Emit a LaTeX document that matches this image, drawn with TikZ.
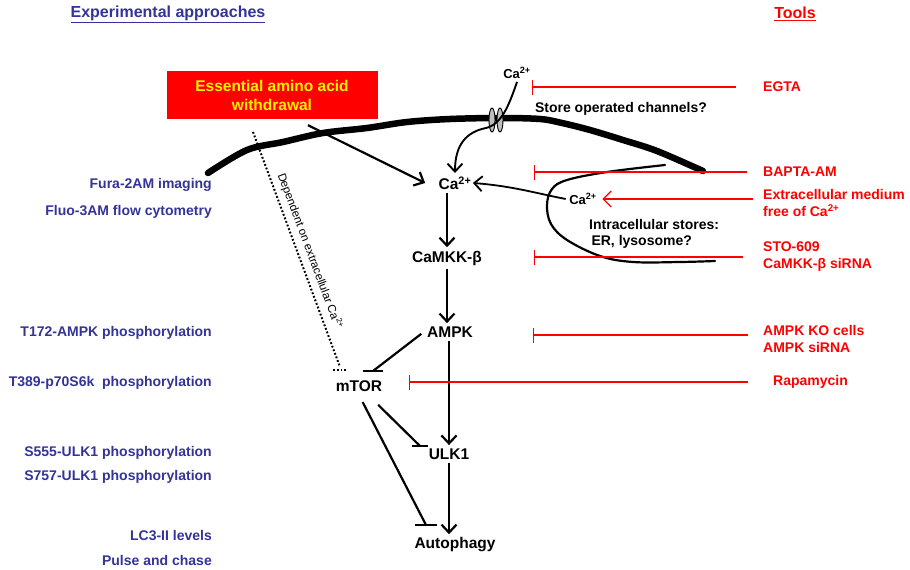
\documentclass[tikz,border=0pt]{standalone}
\usepackage{fontspec}
\setmainfont{Liberation Sans}
\usetikzlibrary{arrows.meta}

\definecolor{approachblue}{HTML}{333399}
\definecolor{toolred}{HTML}{FF0000}

\begin{document}
\begin{tikzpicture}[x=1pt, y=-1pt, >={Straight Barb[length=8pt, width=15pt]},
    every node/.style={font=\bfseries\fontsize{14}{16}\selectfont},
    mol/.style={font=\bfseries\fontsize{15.5}{18}\selectfont},
    smallion/.style={font=\bfseries\fontsize{13}{15}\selectfont},
    approach/.style={text=approachblue, anchor=east, inner sep=0pt},
    toolnote/.style={text=toolred, anchor=west, align=left, inner sep=0pt,
        font=\bfseries\fontsize{14}{17}\selectfont},
    act/.style={->, line width=2.2pt},
    inh/.style={line width=2.2pt},
    redblock/.style={draw=toolred, line width=1.3pt, -{Bar[width=15pt]}},
    dotline/.style={line width=2pt, dash pattern=on 1.8pt off 2pt}]

        \useasboundingbox (0,0) rectangle (910,570);

        % Draw the two headings
        \node[text=approachblue, font=\bfseries\fontsize{16}{18}\selectfont] (exphead)
            at (168,14) {\underline{Experimental approaches}};
        \node[text=toolred, font=\bfseries\fontsize{16}{18}\selectfont] (toolhead)
            at (795,14) {\underline{Tools}};

        % Draw the cell membrane and the channel
        \draw[line width=6.5pt, line cap=round] plot[smooth, tension=0.55] coordinates
            {(208,173) (247,150) (283,142) (323,133) (367,128) (407,122) (450,119)
             (500,118) (540,119) (562,123) (590,130) (623,140) (657,151) (703,171)};
        \draw[fill=gray!50, line width=0.9pt] (492,120) ellipse [x radius=3pt, y radius=12pt];
        \draw[fill=gray!50, line width=0.9pt] (500,120) ellipse [x radius=3pt, y radius=12pt];

        % Draw the intracellular store
        \draw[line width=2.2pt, line cap=round] plot[smooth, tension=0.6] coordinates
            {(665,165) (607,172) (567,180) (552,189) (547,205) (551,224) (567,240)
             (600,256) (633,262) (680,262) (715,261)};

        % Draw the stimulus box
        \node[fill=red, text=yellow, minimum width=211pt, minimum height=48pt, align=center,
            font=\bfseries\fontsize{15.5}{19}\selectfont] (withdrawal)
            at (272,95) {Essential amino acid\\withdrawal};

        % Draw the pathway
        \node[smallion] (catop) at (517,73) {Ca\textsuperscript{2+}};
        \node[mol] (camain) at (455,183) {Ca\textsuperscript{2+}};
        \node[smallion] (castore) at (583,199) {Ca\textsuperscript{2+}};
        \node[mol] (camkk) at (447,258) {CaMKK-β};
        \node[mol] (ampk) at (450,332) {AMPK};
        \node[mol] (mtor) at (359,386) {mTOR};
        \node[mol] (ulk) at (449,454) {ULK1};
        \node[mol] (autophagy) at (455,545) {Autophagy};

        \node (soc) at (621,109) {Store operated channels?};
        \node[align=left, anchor=west, inner sep=0pt] (stores)
            at (589,234) {Intracellular stores:\\\,ER, lysosome?};

        \draw[act, line width=1.9pt] (catop.south) .. controls (509,105) and (502,124) ..
            (486,128) .. controls (466,132) and (455,145) .. (camain.north);
        \draw[act, line width=1.8pt] (castore.west) .. controls (535,193) and (512,186) ..
            ([xshift=-2pt]camain.east);
        \draw[act] ([xshift=36pt, yshift=-6pt]withdrawal.south) -- ([xshift=-10pt]camain.west);

        \draw[act] (camain.south -| camkk) -- (camkk.north);
        \draw[act] (camkk.south) -- (camkk.south |- ampk.north);
        \draw[act] (ampk.south -| ulk) -- (ulk.north);
        \draw[act] (ulk.south) -- (ulk.south |- autophagy.north);

        % Draw the inhibitions
        \coordinate (mtorbar) at (373,371);
        \coordinate (ulkbar) at (420,446);
        \coordinate (autobar) at (426,525);
        \draw[inh, shorten <=3pt] (ampk.west) -- (mtorbar);
        \draw[inh] ([xshift=-10pt]mtorbar) -- ([xshift=10pt]mtorbar);
        \draw[inh, shorten <=14pt] (mtor) -- (ulkbar);
        \draw[inh] ([xshift=-8pt]ulkbar) -- ([xshift=8pt]ulkbar);
        \draw[inh, shorten <=8pt] (mtor.south) -- (autobar);
        \draw[inh] ([xshift=-11pt]autobar) -- ([xshift=11pt]autobar);

        % Draw the dotted link and its label
        \coordinate (deptop) at (253,132);
        \coordinate (depbot) at (340,367);
        \draw[dotline] (deptop) -- (depbot);
        \draw[dotline] (333,370) -- (348,370);
        \node[rotate=-69.5, font=\mdseries\fontsize{11.5}{13}\selectfont] (deplabel)
            at (310,251) {Dependent on extracellular Ca\textsuperscript{2+}};

        % Draw the experimental approaches (left)
        \node[approach] (fura) at (212,185) {Fura-2AM imaging};
        \node[approach] (fluo) at (212,212) {Fluo-3AM flow cytometry};
        \node[approach] (tampk) at (212,333) {T172-AMPK phosphorylation};
        \node[approach] (tsk) at (212,383) {T389-p70S6k\ \ phosphorylation};
        \node[approach] (sulkA) at (212,453) {S555-ULK1 phosphorylation};
        \node[approach] (sulkB) at (212,477) {S757-ULK1 phosphorylation};
        \node[approach] (lcthree) at (212,535) {LC3-II levels};
        \node[approach] (pulse) at (212,560) {Pulse and chase};

        % Draw the tools (right)
        \node[toolnote] (egta) at (763,87) {EGTA};
        \node[toolnote] (bapta) at (763,172) {BAPTA-AM};
        \node[toolnote] (medium) at (763,203) {Extracellular medium\\free of Ca\textsuperscript{2+}};
        \node[toolnote] (sto) at (763,257) {STO-609\\CaMKK-β siRNA};
        \node[toolnote] (ampkko) at (763,339) {AMPK KO cells\\AMPK siRNA};
        \node[toolnote] (rapa) at (773,382) {Rapamycin};

        \coordinate (egtabar) at (532,87);
        \coordinate (baptabar) at (534,172);
        \coordinate (stobar) at (534,257);
        \coordinate (ampkbar) at (533,335);
        \coordinate (rapabar) at (409,382);

        \draw[redblock, shorten <=27pt] (egtabar -| egta.west) -- (egtabar);
        \draw[redblock, shorten <=16pt] (baptabar -| bapta.west) -- (baptabar);
        \draw[draw=toolred, line width=1.3pt, -{Straight Barb[length=8pt, width=16pt]},
            shorten <=10pt, shorten >=2pt] (medium.west |- castore) -- (castore.east);
        \draw[redblock, shorten <=20pt] (stobar -| sto.west) -- (stobar);
        \draw[redblock, shorten <=15pt] (ampkbar -| ampkko.west) -- (ampkbar);
        \draw[redblock, shorten <=25pt] (rapabar -| rapa.west) -- (rapabar);

\end{tikzpicture}
\end{document}
